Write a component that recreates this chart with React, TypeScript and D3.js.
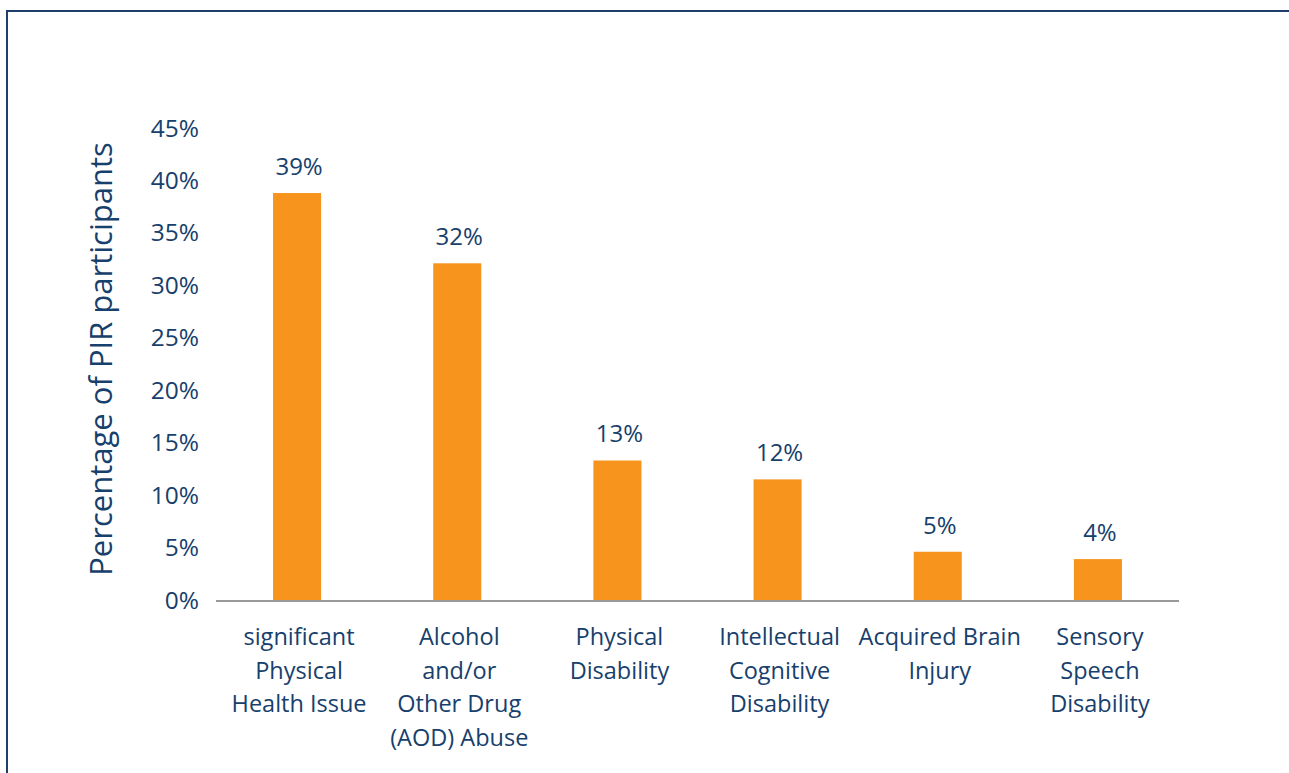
import React from "react";
import * as d3 from "d3";

const categories: string[][] = [
  ["significant", "Physical", "Health Issue"],
  ["Alcohol", "and/or", "Other Drug", "(AOD) Abuse"],
  ["Physical", "Disability"],
  ["Intellectual", "Cognitive", "Disability"],
  ["Acquired Brain", "Injury"],
  ["Sensory", "Speech", "Disability"],
];
const values: number[] = [38.8, 32.1, 13.3, 11.5, 4.6, 3.9];
const valueLabels: string[] = ["39%", "32%", "13%", "12%", "5%", "4%"];
const yTicks: number[] = [0, 5, 10, 15, 20, 25, 30, 35, 40, 45];
const yTitle = "Percentage of PIR participants";

const W = 1289;
const H = 773;
const TEXT = "#17406C";
const BAR = "#F7941D";
const FONT = "'Open Sans', 'Noto Sans', sans-serif";

export default function App() {
  const x = d3
    .scaleBand<number>()
    .domain(values.map((_, i) => i))
    .range([217, 1178])
    .paddingInner(0.7)
    .paddingOuter(0.35);
  const y = d3.scaleLinear().domain([0, 45]).range([600, 128]);

  return (
    <svg
      width={W}
      height={H}
      style={{ position: "absolute", left: 0, top: 0, background: "#fff" }}
      fontFamily={FONT}
    >
      <rect x={7} y={11} width={W} height={H} fill="#fff" stroke="#1F3F6B" strokeWidth={2} />
      {yTicks.map((t) => (
        <text
          key={t}
          x={199}
          y={y(t) - 1}
          textAnchor="end"
          dominantBaseline="central"
          fontSize={24.5}
          fill={TEXT}
        >
          {t}%
        </text>
      ))}
      <text
        transform={`translate(112,${(y(0) + y(45)) / 2 - 5}) rotate(-90)`}
        textAnchor="middle"
        fontSize={31}
        fill={TEXT}
      >
        {yTitle}
      </text>
      {values.map((v, i) => {
        const bx = x(i)!;
        const bw = x.bandwidth();
        return (
          <g key={i}>
            <rect x={bx} y={y(v)} width={bw} height={y(0) - y(v)} fill={BAR} />
            <text
              x={bx + bw / 2 + 2}
              y={y(v) - 18}
              textAnchor="middle"
              fontSize={24}
              fill={TEXT}
            >
              {valueLabels[i]}
            </text>
            {categories[i].map((line, j) => (
              <text
                key={j}
                x={bx + bw / 2 + 2}
                y={636 + j * 33.5}
                textAnchor="middle"
                dominantBaseline="central"
                fontSize={23.5}
                fill={TEXT}
              >
                {line}
              </text>
            ))}
          </g>
        );
      })}
      <line x1={216} x2={1179} y1={y(0) + 1} y2={y(0) + 1} stroke="#999" strokeWidth={2} />
    </svg>
  );
}
